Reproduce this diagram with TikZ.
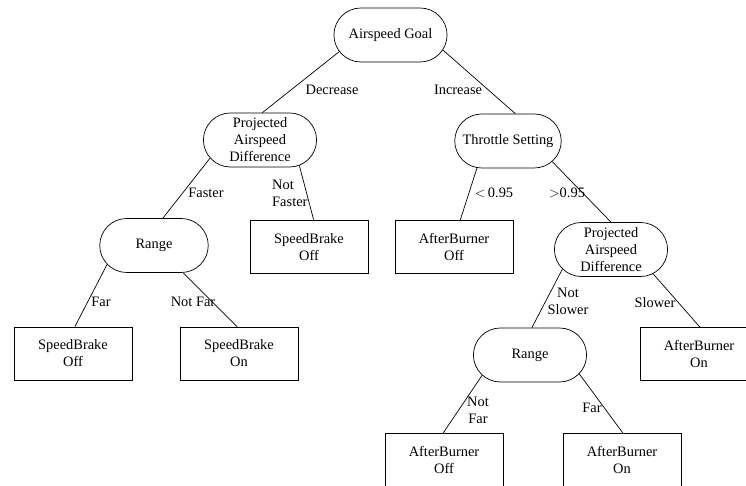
\documentclass[tikz,border=0pt]{standalone}
\usepackage{fontspec}
\setmainfont{Liberation Serif}
\usepackage{tikz}
\usetikzlibrary{shapes.misc}
\tikzset{
  decision/.style={rounded rectangle,draw,line width=0.6pt,align=center,
    minimum width=3.5cm,minimum height=1.62cm,inner sep=1.5pt},
  action/.style={rectangle,draw,line width=0.6pt,align=center,
    minimum width=3.54cm,minimum height=1.59cm,inner sep=1.5pt},
  branch/.style={align=center,inner sep=0pt},
  link/.style={line width=0.6pt}
}

\begin{document}
\begin{tikzpicture}[x=0.03cm,y=0.03cm,font=\fontsize{12.3}{14.5}\selectfont]
        \useasboundingbox (0,0) rectangle (746,486);
        % decisions
        \node[decision] (goal) at (390.5,451) {Airspeed Goal};
        \node[decision] (pdl) at (260,346) {Projected\\Airspeed\\Difference};
        \node[decision,minimum width=3.3cm] (thr) at (508,345) {Throttle Setting};
        \node[decision,minimum width=3.36cm] (rgl) at (154,240.5) {Range};
        \node[decision] (pdr) at (611,236.5) {Projected\\Airspeed\\Difference};
        \node[decision] (rgr) at (530,131) {Range};
        % actions
        \node[action] (sbm) at (309,239) {SpeedBrake\\Off};
        \node[action] (sbl) at (73,132.5) {SpeedBrake\\Off};
        \node[action] (sbn) at (239,132.5) {SpeedBrake\\On};
        \node[action] (abm) at (454,239) {AfterBurner\\Off};
        \node[action] (abr) at (699,132) {AfterBurner\\On};
        \node[action] (abo) at (444,26) {AfterBurner\\Off};
        \node[action] (abn) at (622,26) {AfterBurner\\On};
        % links
        \draw[link] (goal.198) -- (pdl.85);
        \draw[link] (goal.344) -- (thr.75);
        \draw[link] (pdl.200) -- (rgl.72);
        \draw[link] (pdl.327) -- (sbm.80);
        \draw[link] (rgl.202) -- (sbl.86);
        \draw[link] (rgl.317) -- (sbn.94);
        \draw[link] (thr.221) -- (abm.77);
        \draw[link] (thr.335) -- (pdr.90);
        \draw[link] (pdr.202) -- (rgr.86);
        \draw[link] (pdr.330) -- (abr.88);
        \draw[link] (rgr.203) -- (abo.92);
        \draw[link] (rgr.339) -- (abn.88);
        % branch labels
        \node[branch] (lDec) at (332,396) {Decrease};
        \node[branch] (lInc) at (458,396) {Increase};
        \node[branch] (lFas) at (206,293) {Faster};
        \node[branch,align=left,anchor=west] (lNFas) at (272,292.5) {Not\\Faster};
        \node[branch] (lLow) at (494,293) {$<$\,0.95};
        \node[branch] (lHigh) at (567,293) {$>$0.95};
        \node[branch] (lFarL) at (101,184) {Far};
        \node[branch] (lNFarL) at (193,184) {Not Far};
        \node[branch] (lNSlo) at (568,185) {Not\\Slower};
        \node[branch] (lSlo) at (655,183) {Slower};
        \node[branch] (lNFarR) at (478,76) {Not\\Far};
        \node[branch] (lFarR) at (592,78) {Far};
      \end{tikzpicture}
\end{document}
